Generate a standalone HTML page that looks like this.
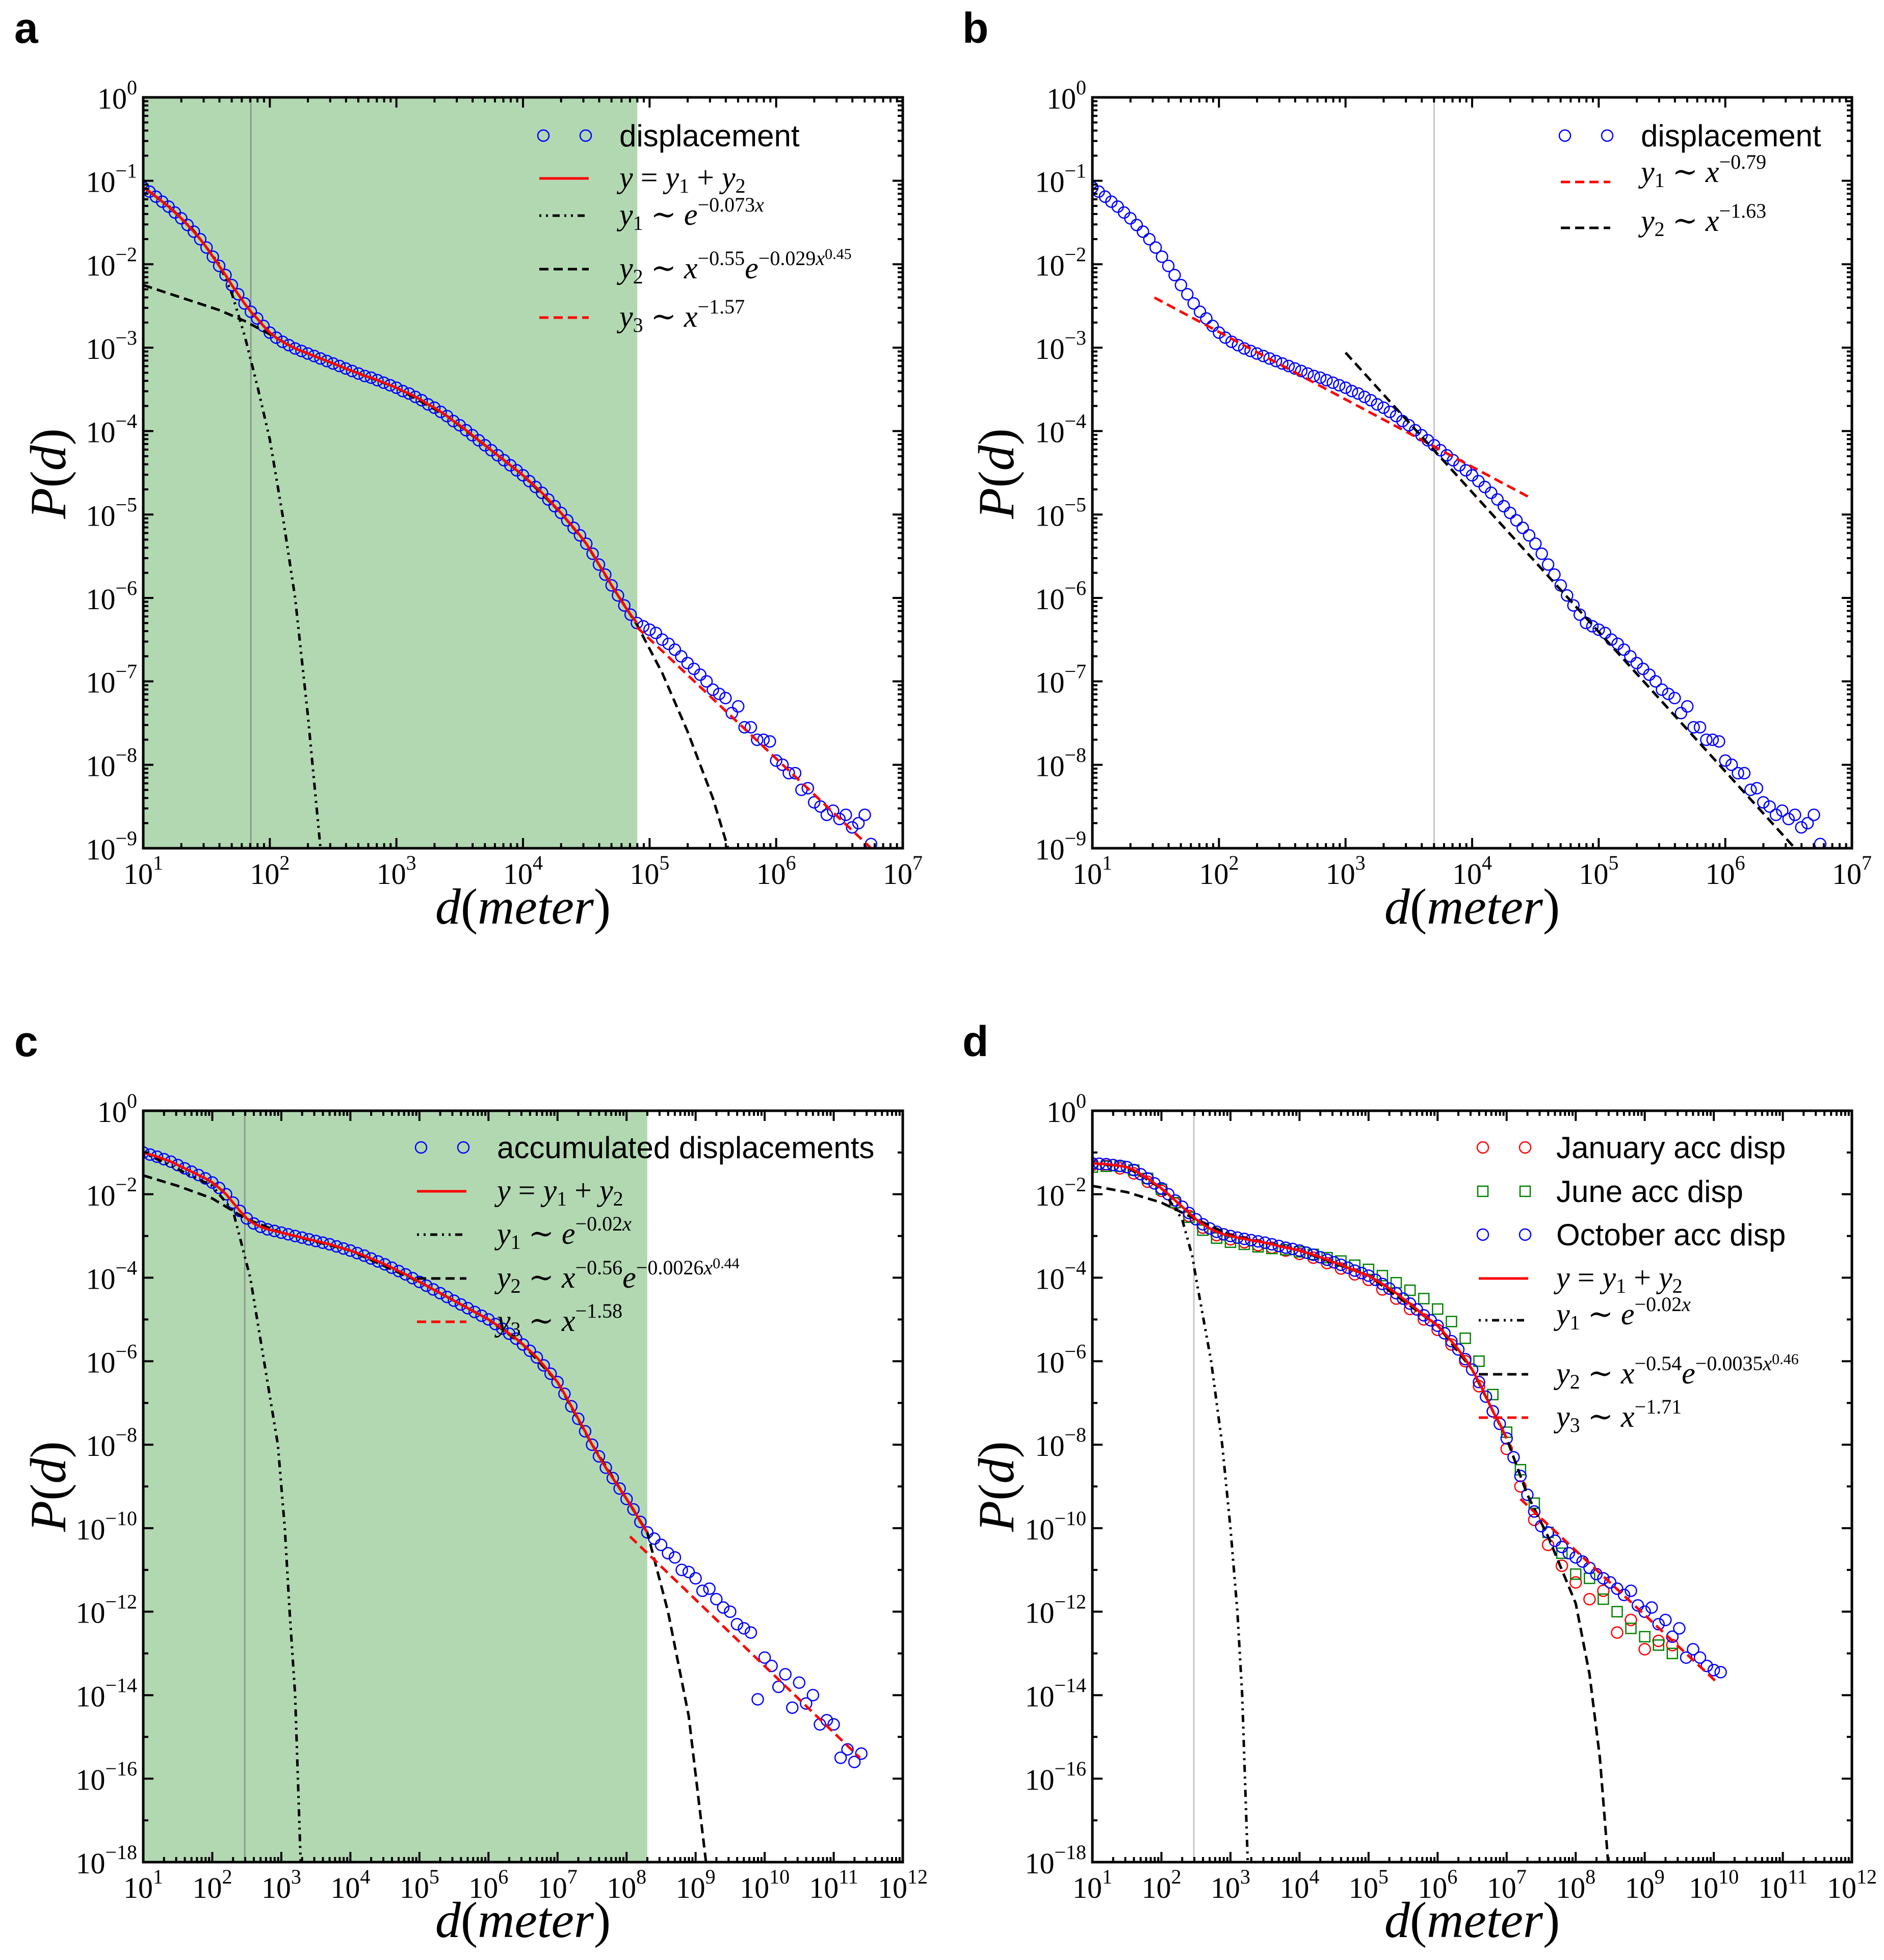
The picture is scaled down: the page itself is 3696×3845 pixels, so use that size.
<!DOCTYPE html>
<html><head><meta charset="utf-8"><style>
html,body{margin:0;padding:0;background:#fff}
svg text{font-family:"Liberation Serif","DejaVu Serif",serif}
.lg{font-family:"Liberation Sans",sans-serif;font-size:60px}
.m{font-family:"Liberation Serif","DejaVu Serif",serif;font-size:60px}
.i{font-style:italic}
.s{font-size:40px}
.s2{font-size:30px}
.pl{font-family:"Liberation Sans",sans-serif;font-weight:bold;font-size:84px}
.ax{font-family:"Liberation Serif","DejaVu Serif",serif;font-size:100px}
</style></head><body>
<svg id="fig" width="3696" height="3840" viewBox="0 0 3696 3840" xmlns="http://www.w3.org/2000/svg">
<defs>
<clipPath id="clipA"><rect x="281" y="191" width="1490" height="1473"/></clipPath>
<clipPath id="clipB"><rect x="2143" y="191" width="1490" height="1473"/></clipPath>
<clipPath id="clipC"><rect x="281" y="2179" width="1490" height="1474"/></clipPath>
<clipPath id="clipD"><rect x="2143" y="2179" width="1490" height="1474"/></clipPath>
</defs>
<text class="pl" x="28" y="84">a</text>
<text class="pl" x="1888" y="84">b</text>
<text class="pl" x="28" y="2072">c</text>
<text class="pl" x="1888" y="2072">d</text>

<g id="pA"></g>
<g id="pB"></g>
<g id="pC"></g>
<g id="pD"></g>

<text class="ax" x="1026" y="1812" text-anchor="middle"><tspan class="i">d</tspan>(<tspan class="i">meter</tspan>)</text>
<text class="ax" x="2888" y="1812" text-anchor="middle"><tspan class="i">d</tspan>(<tspan class="i">meter</tspan>)</text>
<text class="ax" x="1026" y="3800" text-anchor="middle"><tspan class="i">d</tspan>(<tspan class="i">meter</tspan>)</text>
<text class="ax" x="2888" y="3800" text-anchor="middle"><tspan class="i">d</tspan>(<tspan class="i">meter</tspan>)</text>
<text class="ax" transform="translate(128,929) rotate(-90)" text-anchor="middle"><tspan class="i">P</tspan>(<tspan class="i">d</tspan>)</text>
<text class="ax" transform="translate(1988,929) rotate(-90)" text-anchor="middle"><tspan class="i">P</tspan>(<tspan class="i">d</tspan>)</text>
<text class="ax" transform="translate(128,2916) rotate(-90)" text-anchor="middle"><tspan class="i">P</tspan>(<tspan class="i">d</tspan>)</text>
<text class="ax" transform="translate(1988,2916) rotate(-90)" text-anchor="middle"><tspan class="i">P</tspan>(<tspan class="i">d</tspan>)</text>

<g>
<g>
<circle cx="1066" cy="266" r="11" fill="none" stroke="#0000ff" stroke-width="2.5"/><circle cx="1149" cy="266" r="11" fill="none" stroke="#0000ff" stroke-width="2.5"/>
<text class="lg" x="1215" y="287">displacement</text></g>
<g>
<line x1="1058" y1="350" x2="1155" y2="350" stroke="#ff0000" stroke-width="5"/>
<text class="m" x="1215" y="368"><tspan class="i">y</tspan> = <tspan class="i">y</tspan><tspan class="s" dy="10">1</tspan><tspan dy="-10"> + </tspan><tspan class="i">y</tspan><tspan class="s" dy="10">2</tspan></text></g>
<g>
<line x1="1058" y1="423" x2="1155" y2="423" stroke="#000" stroke-width="5" stroke-dasharray="4 9 4 9 14 9"/>
<text class="m" x="1215" y="441"><tspan class="i">y</tspan><tspan class="s" dy="10">1</tspan><tspan dy="-10"> ∼ </tspan><tspan class="i">e</tspan><tspan class="s" dy="-26">−0.073</tspan><tspan class="s i">x</tspan></text></g>
<g>
<line x1="1058" y1="528" x2="1155" y2="528" stroke="#000" stroke-width="5" stroke-dasharray="18 10"/>
<text class="m" x="1215" y="546"><tspan class="i">y</tspan><tspan class="s" dy="10">2</tspan><tspan dy="-10"> ∼ </tspan><tspan class="i">x</tspan><tspan class="s" dy="-26">−0.55</tspan><tspan class="i" dy="26">e</tspan><tspan class="s" dy="-26">−0.029</tspan><tspan class="s i">x</tspan><tspan class="s2" dy="-12">0.45</tspan></text></g>
<g>
<line x1="1058" y1="623" x2="1155" y2="623" stroke="#ff0000" stroke-width="5" stroke-dasharray="18 10"/>
<text class="m" x="1215" y="641"><tspan class="i">y</tspan><tspan class="s" dy="10">3</tspan><tspan dy="-10"> ∼ </tspan><tspan class="i">x</tspan><tspan class="s" dy="-26">−1.57</tspan></text></g>
</g>

<g>
<g>
<circle cx="3070" cy="266" r="11" fill="none" stroke="#0000ff" stroke-width="2.5"/><circle cx="3153" cy="266" r="11" fill="none" stroke="#0000ff" stroke-width="2.5"/>
<text class="lg" x="3219" y="287">displacement</text></g>
<g>
<line x1="3062" y1="357" x2="3159" y2="357" stroke="#ff0000" stroke-width="5" stroke-dasharray="18 10"/>
<text class="m" x="3219" y="357"><tspan class="i">y</tspan><tspan class="s" dy="10">1</tspan><tspan dy="-10"> ∼ </tspan><tspan class="i">x</tspan><tspan class="s" dy="-26">−0.79</tspan></text></g>
<g>
<line x1="3062" y1="447" x2="3159" y2="447" stroke="#000" stroke-width="5" stroke-dasharray="18 10"/>
<text class="m" x="3219" y="453"><tspan class="i">y</tspan><tspan class="s" dy="10">2</tspan><tspan dy="-10"> ∼ </tspan><tspan class="i">x</tspan><tspan class="s" dy="-26">−1.63</tspan></text></g>
</g>

<g>
<g>
<circle cx="826" cy="2251" r="11" fill="none" stroke="#0000ff" stroke-width="2.5"/><circle cx="909" cy="2251" r="11" fill="none" stroke="#0000ff" stroke-width="2.5"/>
<text class="lg" x="975" y="2272">accumulated displacements</text></g>
<g>
<line x1="818" y1="2337" x2="915" y2="2337" stroke="#ff0000" stroke-width="5"/>
<text class="m" x="975" y="2355"><tspan class="i">y</tspan> = <tspan class="i">y</tspan><tspan class="s" dy="10">1</tspan><tspan dy="-10"> + </tspan><tspan class="i">y</tspan><tspan class="s" dy="10">2</tspan></text></g>
<g>
<line x1="818" y1="2422" x2="915" y2="2422" stroke="#000" stroke-width="5" stroke-dasharray="4 9 4 9 14 9"/>
<text class="m" x="975" y="2440"><tspan class="i">y</tspan><tspan class="s" dy="10">1</tspan><tspan dy="-10"> ∼ </tspan><tspan class="i">e</tspan><tspan class="s" dy="-26">−0.02</tspan><tspan class="s i">x</tspan></text></g>
<g>
<line x1="818" y1="2508" x2="915" y2="2508" stroke="#000" stroke-width="5" stroke-dasharray="18 10"/>
<text class="m" x="975" y="2526"><tspan class="i">y</tspan><tspan class="s" dy="10">2</tspan><tspan dy="-10"> ∼ </tspan><tspan class="i">x</tspan><tspan class="s" dy="-26">−0.56</tspan><tspan class="i" dy="26">e</tspan><tspan class="s" dy="-26">−0.0026</tspan><tspan class="s i">x</tspan><tspan class="s2" dy="-12">0.44</tspan></text></g>
<g>
<line x1="818" y1="2593" x2="915" y2="2593" stroke="#ff0000" stroke-width="5" stroke-dasharray="18 10"/>
<text class="m" x="975" y="2611"><tspan class="i">y</tspan><tspan class="s" dy="10">3</tspan><tspan dy="-10"> ∼ </tspan><tspan class="i">x</tspan><tspan class="s" dy="-26">−1.58</tspan></text></g>
</g>

<g>
<g>
<circle cx="2909" cy="2251" r="11" fill="none" stroke="#ff0000" stroke-width="2.5"/><circle cx="2992" cy="2251" r="11" fill="none" stroke="#ff0000" stroke-width="2.5"/>
<text class="lg" x="3053" y="2272">January acc disp</text></g>
<g>
<rect x="2899" y="2327" width="20" height="20" fill="none" stroke="#008000" stroke-width="2.5"/><rect x="2982" y="2327" width="20" height="20" fill="none" stroke="#008000" stroke-width="2.5"/>
<text class="lg" x="3053" y="2358">June acc disp</text></g>
<g>
<circle cx="2909" cy="2422" r="11" fill="none" stroke="#0000ff" stroke-width="2.5"/><circle cx="2992" cy="2422" r="11" fill="none" stroke="#0000ff" stroke-width="2.5"/>
<text class="lg" x="3053" y="2443">October acc disp</text></g>
<g>
<line x1="2901" y1="2508" x2="2998" y2="2508" stroke="#ff0000" stroke-width="5"/>
<text class="m" x="3053" y="2526"><tspan class="i">y</tspan> = <tspan class="i">y</tspan><tspan class="s" dy="10">1</tspan><tspan dy="-10"> + </tspan><tspan class="i">y</tspan><tspan class="s" dy="10">2</tspan></text></g>
<g>
<line x1="2901" y1="2590" x2="2998" y2="2590" stroke="#000" stroke-width="5" stroke-dasharray="4 9 4 9 14 9"/>
<text class="m" x="3053" y="2598"><tspan class="i">y</tspan><tspan class="s" dy="10">1</tspan><tspan dy="-10"> ∼ </tspan><tspan class="i">e</tspan><tspan class="s" dy="-26">−0.02</tspan><tspan class="s i">x</tspan></text></g>
<g>
<line x1="2901" y1="2696" x2="2998" y2="2696" stroke="#000" stroke-width="5" stroke-dasharray="18 10"/>
<text class="m" x="3053" y="2714"><tspan class="i">y</tspan><tspan class="s" dy="10">2</tspan><tspan dy="-10"> ∼ </tspan><tspan class="i">x</tspan><tspan class="s" dy="-26">−0.54</tspan><tspan class="i" dy="26">e</tspan><tspan class="s" dy="-26">−0.0035</tspan><tspan class="s i">x</tspan><tspan class="s2" dy="-12">0.46</tspan></text></g>
<g>
<line x1="2901" y1="2781" x2="2998" y2="2781" stroke="#ff0000" stroke-width="5" stroke-dasharray="18 10"/>
<text class="m" x="3053" y="2799"><tspan class="i">y</tspan><tspan class="s" dy="10">3</tspan><tspan dy="-10"> ∼ </tspan><tspan class="i">x</tspan><tspan class="s" dy="-26">−1.71</tspan></text></g>
</g>
</svg>
<script>
const dispX = [1.00,1.05,1.10,1.15,1.20,1.25,1.30,1.35,1.40,1.45,1.50,1.55,1.60,1.65,1.70,1.75,1.80,1.85,1.90,1.95,2.00,2.05,2.10,2.15,2.20,2.25,2.30,2.35,2.40,2.45,2.50,2.55,2.60,2.65,2.70,2.75,2.80,2.85,2.90,2.95,3.00,3.05,3.10,3.15,3.20,3.25,3.30,3.35,3.40,3.45,3.50,3.55,3.60,3.65,3.70,3.75,3.80,3.85,3.90,3.95,4.00,4.05,4.10,4.15,4.20,4.25,4.30,4.35,4.40,4.45,4.50,4.55,4.60,4.65,4.70,4.75,4.80,4.85,4.90,4.95,5.00,5.05,5.10,5.15,5.20,5.25,5.30,5.35,5.40,5.45,5.50,5.55,5.60,5.65,5.70,5.75,5.80,5.85,5.90,5.95,6.00,6.05,6.10,6.15,6.20,6.25,6.30,6.35,6.40,6.45,6.50,6.55,6.60,6.65,6.70,6.75];
const dispY = [-1.08,-1.13,-1.19,-1.25,-1.31,-1.38,-1.45,-1.53,-1.61,-1.70,-1.80,-1.91,-2.02,-2.13,-2.25,-2.36,-2.47,-2.57,-2.65,-2.74,-2.82,-2.88,-2.93,-2.97,-3.01,-3.04,-3.07,-3.10,-3.13,-3.16,-3.19,-3.22,-3.25,-3.28,-3.31,-3.34,-3.36,-3.39,-3.42,-3.45,-3.48,-3.52,-3.55,-3.59,-3.63,-3.68,-3.72,-3.77,-3.82,-3.88,-3.93,-3.99,-4.05,-4.11,-4.17,-4.23,-4.29,-4.35,-4.41,-4.47,-4.53,-4.60,-4.67,-4.74,-4.82,-4.90,-4.98,-5.07,-5.16,-5.25,-5.35,-5.47,-5.60,-5.72,-5.85,-5.97,-6.09,-6.20,-6.30,-6.34,-6.38,-6.42,-6.50,-6.55,-6.62,-6.70,-6.78,-6.85,-6.92,-7.00,-7.10,-7.15,-7.20,-7.38,-7.30,-7.55,-7.55,-7.70,-7.70,-7.72,-7.95,-8.00,-8.10,-8.10,-8.30,-8.28,-8.45,-8.50,-8.60,-8.55,-8.65,-8.60,-8.75,-8.70,-8.60,-8.95];
const aY1X = [1.0,1.2,1.4,1.6,1.7,1.8,1.9,2.0,2.1,2.2,2.3,2.4];
const aY1Y = [-1.08,-1.3,-1.6,-2.0,-2.35,-2.85,-3.45,-4.1,-5.0,-6.0,-7.4,-9.0];
const aY2X = [1.0,1.3,1.6,1.8,2.0,2.2,2.6,3.0,3.4,3.8,4.0,4.3,4.5,4.7,4.9,5.1,5.3,5.5,5.62];
const aY2Y = [-2.25,-2.4,-2.55,-2.68,-2.84,-3.01,-3.25,-3.48,-3.82,-4.29,-4.53,-4.98,-5.35,-5.85,-6.32,-6.9,-7.6,-8.4,-9.0];
const aY3X = [4.9,6.75];
const aY3Y = [-6.35,-9.0];
const bY1X = [1.49,4.46];
const bY1Y = [-2.40,-4.80];
const bY2X = [3.0,6.55];
const bY2Y = [-3.06,-9.0];

const accX = [1.0,1.1,1.2,1.3,1.4,1.5,1.6,1.7,1.8,1.9,2.0,2.1,2.2,2.3,2.4,2.5,2.6,2.7,2.8,2.9,3.0,3.1,3.2,3.3,3.4,3.5,3.6,3.7,3.8,3.9,4.0,4.1,4.2,4.3,4.4,4.5,4.6,4.7,4.8,4.9,5.0,5.1,5.2,5.3,5.4,5.5,5.6,5.7,5.8,5.9,6.0,6.1,6.2,6.3,6.4,6.5,6.6,6.7,6.8,6.9,7.0,7.1,7.2,7.3,7.4,7.5,7.6,7.7,7.8,7.9,8.0,8.1,8.2,8.3,8.4,8.5,8.6,8.7,8.8,8.9,9.0,9.1,9.2,9.3,9.4,9.5,9.6,9.7,9.8,9.9,10.0,10.1,10.2,10.3,10.4,10.5,10.6,10.7,10.8,10.9,11.0,11.1,11.2,11.3,11.4];
const accY = [-1.0,-1.05,-1.1,-1.16,-1.22,-1.3,-1.38,-1.46,-1.54,-1.62,-1.72,-1.85,-2.0,-2.2,-2.4,-2.58,-2.7,-2.78,-2.84,-2.88,-2.92,-2.96,-3.0,-3.04,-3.08,-3.12,-3.16,-3.2,-3.25,-3.3,-3.35,-3.41,-3.47,-3.54,-3.61,-3.68,-3.76,-3.84,-3.92,-4.01,-4.1,-4.19,-4.28,-4.37,-4.46,-4.55,-4.64,-4.73,-4.82,-4.91,-5.0,-5.11,-5.22,-5.34,-5.46,-5.6,-5.75,-5.91,-6.1,-6.3,-6.5,-6.78,-7.08,-7.38,-7.68,-8.0,-8.28,-8.55,-8.8,-9.05,-9.3,-9.55,-9.85,-10.1,-10.25,-10.4,-10.6,-10.7,-11.0,-11.05,-11.2,-11.5,-11.45,-11.7,-11.9,-12.0,-12.3,-12.4,-12.5,-14.1,-13.1,-13.3,-13.8,-13.5,-14.3,-13.7,-14.2,-14.0,-14.7,-14.6,-14.7,-15.5,-15.3,-15.6,-15.4];
const cY1X = [1.0,2.0,2.3,2.55,2.75,2.95,3.05,3.12,3.2,3.28];
const cY1Y = [-1.0,-1.8,-2.4,-4,-6,-8,-10,-12,-14,-18];
const cY2X = [1.0,1.5,2.0,2.5,3.0,4.0,5.0,6.0,6.5,7.0,7.5,8.0,8.3,8.6,8.9,9.15];
const cY2Y = [-1.55,-1.8,-2.1,-2.6,-2.92,-3.35,-4.1,-5.0,-5.6,-6.5,-8.0,-9.3,-10.1,-12,-14.5,-18];
const cY3X = [8.05,11.38];
const cY3Y = [-10.2,-15.5];

const octX = [1.0,1.1,1.2,1.3,1.4,1.5,1.6,1.7,1.8,1.9,2.0,2.1,2.2,2.3,2.4,2.5,2.6,2.7,2.8,2.9,3.0,3.1,3.2,3.3,3.4,3.5,3.6,3.7,3.8,3.9,4.0,4.1,4.2,4.3,4.4,4.5,4.6,4.7,4.8,4.9,5.0,5.1,5.2,5.3,5.4,5.5,5.6,5.7,5.8,5.9,6.0,6.1,6.2,6.3,6.4,6.5,6.6,6.7,6.8,6.9,7.0,7.1,7.2,7.3,7.4,7.5,7.6,7.7,7.8,7.9,8.0,8.1,8.2,8.3,8.4,8.5,8.6,8.7,8.8,8.9,9.0,9.1,9.2,9.3,9.4,9.5,9.6,9.7,9.8,9.9,10.0,10.1];
const octY = [-1.26,-1.27,-1.28,-1.3,-1.32,-1.35,-1.42,-1.52,-1.62,-1.74,-1.86,-2.0,-2.15,-2.3,-2.45,-2.6,-2.72,-2.82,-2.9,-2.96,-3.0,-3.04,-3.07,-3.1,-3.13,-3.16,-3.2,-3.24,-3.28,-3.31,-3.35,-3.4,-3.45,-3.51,-3.57,-3.63,-3.69,-3.76,-3.83,-3.89,-3.95,-4.05,-4.15,-4.26,-4.37,-4.5,-4.62,-4.76,-4.9,-5.02,-5.15,-5.33,-5.52,-5.72,-5.95,-6.2,-6.5,-6.85,-7.2,-7.5,-7.85,-8.3,-8.75,-9.2,-9.6,-9.95,-10.1,-10.3,-10.45,-10.6,-10.7,-10.8,-10.95,-11.1,-11.2,-11.3,-11.45,-11.6,-11.5,-11.85,-12.0,-11.9,-12.3,-12.2,-12.6,-12.4,-13.1,-12.9,-13.1,-13.3,-13.4,-13.45];
const janX = [1.0,1.2,1.4,1.6,1.8,2.0,2.2,2.4,2.6,2.8,3.0,3.2,3.4,3.6,3.8,4.0,4.2,4.4,4.6,4.8,5.0,5.2,5.4,5.6,5.8,6.0,6.2,6.4,6.6,6.8,7.0,7.2,7.4,7.6,7.8,8.0,8.2,8.4,8.6,8.8,9.0,9.2,9.4];
const janY = [-1.3,-1.32,-1.38,-1.5,-1.7,-1.92,-2.22,-2.52,-2.8,-2.98,-3.08,-3.15,-3.22,-3.28,-3.35,-3.43,-3.52,-3.65,-3.78,-3.92,-4.05,-4.28,-4.5,-4.75,-5.0,-5.25,-5.6,-6.0,-6.6,-7.2,-8.1,-9.0,-9.8,-10.4,-10.9,-11.3,-11.7,-11.5,-12.5,-12.2,-12.9,-12.7,-12.8];
const junX = [1.0,1.2,1.4,1.6,1.8,2.0,2.2,2.4,2.6,2.8,3.0,3.2,3.4,3.6,3.8,4.0,4.2,4.4,4.6,4.8,5.0,5.2,5.4,5.6,5.8,6.0,6.2,6.4,6.6,6.8,7.0,7.2,7.4,7.6,7.8,8.0,8.2,8.4,8.6,8.8,9.0,9.2,9.4];
const junY = [-1.35,-1.33,-1.33,-1.42,-1.62,-1.88,-2.2,-2.55,-2.86,-3.05,-3.15,-3.2,-3.26,-3.3,-3.33,-3.38,-3.44,-3.52,-3.6,-3.7,-3.8,-3.95,-4.12,-4.3,-4.5,-4.75,-5.05,-5.45,-6.0,-6.8,-7.7,-8.6,-9.4,-10.1,-10.6,-11.1,-11.2,-11.7,-12.0,-12.4,-12.6,-12.8,-13.0];
const dY1X = [1.0,1.5,2.0,2.3,2.45,2.5,2.72,2.88,3.0,3.1,3.17,3.25];
const dY1Y = [-1.26,-1.35,-1.86,-2.6,-3.5,-4.0,-6,-8,-10,-12,-14,-18];
const dY2X = [1.0,1.5,2.0,2.5,3.0,3.5,4.0,5.0,6.0,6.5,7.0,7.3,7.6,8.0,8.2,8.35,8.47];
const dY2Y = [-1.8,-1.95,-2.2,-2.6,-2.98,-3.16,-3.35,-3.95,-5.15,-6.2,-7.85,-9.2,-10.2,-11.8,-13.5,-15.5,-18];
const dY3X = [7.2,10.05];
const dY3Y = [-9.3,-13.7];

const NS = 'http://www.w3.org/2000/svg';
function el(tag, parent){ const e = document.createElementNS(NS, tag); parent.appendChild(e); return e; }
function mkAxes(L,R,T,B,x0,x1,y0,y1){
  return { sx: v => L + (v - x0) / (x1 - x0) * (R - L), sy: v => T + (y0 - v) / (y0 - y1) * (B - T), L:L, R:R, T:T, B:B, x0:x0, x1:x1, y0:y0, y1:y1 };
}
function line(g, ax, xs, ys, color, dash, name){
  const p = el('polyline', g);
  
  
  p.setAttribute('points', xs.map((x,i) => ax.sx(x).toFixed(1) + ',' + ax.sy(ys[i]).toFixed(1)).join(' '));
  p.setAttribute('fill', 'none'); p.setAttribute('stroke', color); p.setAttribute('stroke-width', '5');
  if (dash) p.setAttribute('stroke-dasharray', dash);
}
function circles(g, ax, xs, ys, color, name){
  xs.forEach((x,i) => {
    const c = el('circle', g);
    
    
    c.setAttribute('cx', ax.sx(x).toFixed(1)); c.setAttribute('cy', ax.sy(ys[i]).toFixed(1)); c.setAttribute('r', '11');
    c.setAttribute('fill', 'none'); c.setAttribute('stroke', color); c.setAttribute('stroke-width', '2.5');
  });
}
function squares(g, ax, xs, ys, color, name){
  xs.forEach((x,i) => {
    const r = el('rect', g);
    
    
    r.setAttribute('x', (ax.sx(x) - 10).toFixed(1)); r.setAttribute('y', (ax.sy(ys[i]) - 10).toFixed(1));
    r.setAttribute('width', '20'); r.setAttribute('height', '20');
    r.setAttribute('fill', 'none'); r.setAttribute('stroke', color); r.setAttribute('stroke-width', '2.5');
  });
}
function frame(g, ax, yStep){
  const t = el('g', g);
  
  
  const tk = (x1,y1,x2,y2) => { const l = el('line', t); l.setAttribute('x1',x1); l.setAttribute('y1',y1); l.setAttribute('x2',x2); l.setAttribute('y2',y2); l.setAttribute('stroke','#000'); l.setAttribute('stroke-width','4'); };
  for (let d = ax.x0; d <= ax.x1; d++) {
    const X = ax.sx(d);
    if (d > ax.x0 && d < ax.x1) { tk(X, ax.B, X, ax.B - 20); tk(X, ax.T, X, ax.T + 20); }
    if (d < ax.x1) for (let m = 2; m <= 9; m++) { const xm = ax.sx(d + Math.log10(m)); tk(xm, ax.B, xm, ax.B - 10); tk(xm, ax.T, xm, ax.T + 10); }
    const lab = el('text', t);
    
    
    lab.setAttribute('x', X); lab.setAttribute('y', ax.B + 70); lab.setAttribute('text-anchor', 'middle'); lab.setAttribute('font-size', '58');
    lab.innerHTML = '10<tspan font-size="40" dy="-28">' + d + '</tspan>';
  }
  for (let e = ax.y0; e >= ax.y1; e--) {
    const Y = ax.sy(e);
    const major = (e % yStep === 0);
    if (e > ax.y1 && e < ax.y0) { const len = major ? 20 : 10; tk(ax.L, Y, ax.L + len, Y); tk(ax.R, Y, ax.R - len, Y); }
    if (yStep === 1 && e > ax.y1) for (let m = 2; m <= 9; m++) { const ym = ax.sy(e - 1 + Math.log10(m)); tk(ax.L, ym, ax.L + 10, ym); tk(ax.R, ym, ax.R - 10, ym); }
    if (major) {
      const lab = el('text', t);
      
      
      lab.setAttribute('x', ax.L - 12); lab.setAttribute('y', Y + 22); lab.setAttribute('text-anchor', 'end'); lab.setAttribute('font-size', '58');
      lab.innerHTML = '10<tspan font-size="40" dy="-28">' + (e === 0 ? '0' : '\u2212' + (-e)) + '</tspan>';
    }
  }
  const b = el('rect', g);
  
  
  b.setAttribute('x', ax.L); b.setAttribute('y', ax.T); b.setAttribute('width', ax.R - ax.L); b.setAttribute('height', ax.B - ax.T);
  b.setAttribute('fill', 'none'); b.setAttribute('stroke', '#000'); b.setAttribute('stroke-width', '5');
}
function bg(g, ax, clip, greenTo, vline, vcol){
  const c = el('g', g); c.setAttribute('clip-path', 'url(#' + clip + ')');
  
  
  if (greenTo !== null) {
    const r = el('rect', c);
    
    
    r.setAttribute('x', ax.L); r.setAttribute('y', ax.T); r.setAttribute('width', ax.sx(greenTo) - ax.L); r.setAttribute('height', ax.B - ax.T);
    r.setAttribute('fill', '#b2d8b2');
  }
  const v = el('line', c);
  
  
  v.setAttribute('x1', ax.sx(vline)); v.setAttribute('x2', ax.sx(vline)); v.setAttribute('y1', ax.T); v.setAttribute('y2', ax.B);
  v.setAttribute('stroke', vcol); v.setAttribute('stroke-width', '3');
  return c;
}
const upto = (xs, ys, lim) => { const X = [], Y = []; xs.forEach((x,i) => { if (x <= lim) { X.push(x); Y.push(ys[i]); } }); return [X, Y]; };

{ const g = document.getElementById('pA'); const ax = mkAxes(281,1771,191,1664,1,7,0,-9);
  const c = bg(g, ax, 'clipA', 4.903, 1.85, '#8a9c8a');
  circles(c, ax, dispX, dispY, '#0000ff', 'displacement-marker');
  const s = upto(dispX, dispY, 4.9);
  line(c, ax, aY1X, aY1Y, '#000', '4 9 4 9 14 9', 'y1-exponential-fit');
  line(c, ax, aY2X, aY2Y, '#000', '18 10', 'y2-stretched-fit');
  line(c, ax, s[0], s[1], '#ff0000', null, 'sum-fit-line');
  line(c, ax, aY3X, aY3Y, '#ff0000', '18 10', 'y3-powerlaw-fit');
  frame(g, ax, 1); }
{ const g = document.getElementById('pB'); const ax = mkAxes(2143,3633,191,1664,1,7,0,-9);
  const c = bg(g, ax, 'clipB', null, 3.7, '#c8c8c8');
  circles(c, ax, dispX, dispY, '#0000ff', 'displacement-marker');
  line(c, ax, bY1X, bY1Y, '#ff0000', '18 10', 'y1-powerlaw-fit');
  line(c, ax, bY2X, bY2Y, '#000', '18 10', 'y2-powerlaw-fit');
  frame(g, ax, 1); }
{ const g = document.getElementById('pC'); const ax = mkAxes(281,1771,2179,3653,1,12,0,-18);
  const c = bg(g, ax, 'clipC', 8.3, 2.47, '#8a9c8a');
  circles(c, ax, accX, accY, '#0000ff', 'accumulated-marker');
  const s = upto(accX, accY, 8.3);
  line(c, ax, cY1X, cY1Y, '#000', '4 9 4 9 14 9', 'y1-exponential-fit');
  line(c, ax, cY2X, cY2Y, '#000', '18 10', 'y2-stretched-fit');
  line(c, ax, s[0], s[1], '#ff0000', null, 'sum-fit-line');
  line(c, ax, cY3X, cY3Y, '#ff0000', '18 10', 'y3-powerlaw-fit');
  frame(g, ax, 2); }
{ const g = document.getElementById('pD'); const ax = mkAxes(2143,3633,2179,3653,1,12,0,-18);
  const c = bg(g, ax, 'clipD', null, 2.47, '#c8c8c8');
  circles(c, ax, janX, janY, '#ff0000', 'january-marker');
  squares(c, ax, junX, junY, '#008000', 'june-marker');
  circles(c, ax, octX, octY, '#0000ff', 'october-marker');
  const s = upto(octX, octY, 7.0);
  line(c, ax, dY1X, dY1Y, '#000', '4 9 4 9 14 9', 'y1-exponential-fit');
  line(c, ax, dY2X, dY2Y, '#000', '18 10', 'y2-stretched-fit');
  line(c, ax, s[0], s[1], '#ff0000', null, 'sum-fit-line');
  line(c, ax, dY3X, dY3Y, '#ff0000', '18 10', 'y3-powerlaw-fit');
  frame(g, ax, 2); }
</script>
</body></html>
